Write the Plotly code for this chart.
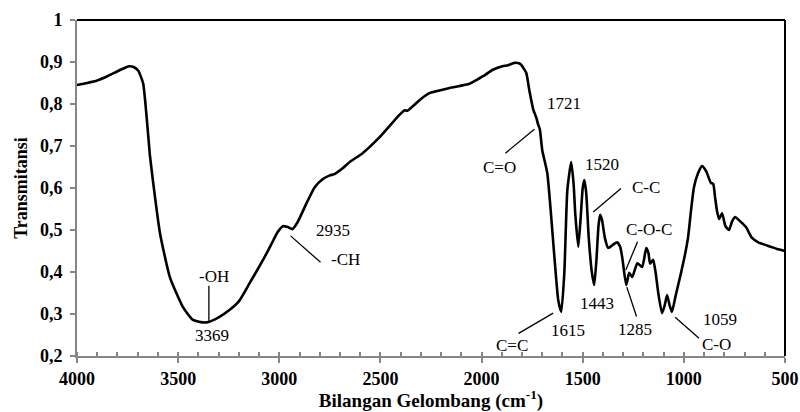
import plotly.graph_objects as go

# Wavenumber (cm-1) and transmittance
wavenumber = [4000, 3950, 3900, 3850, 3800, 3760, 3742, 3720, 3697, 3673, 3656, 3640, 3623,
              3590, 3541, 3477, 3427, 3378, 3350, 3300, 3245, 3200, 3146, 3100, 3062, 3030,
              3008, 2983, 2958, 2935, 2909, 2865, 2825, 2786, 2750, 2727, 2687, 2652, 2588,
              2504, 2406, 2380, 2366, 2300, 2258, 2159, 2060, 2026, 1980, 1947, 1897, 1870,
              1838, 1815, 1804, 1779, 1764, 1744, 1729, 1721, 1712, 1700, 1675, 1640, 1621,
              1606, 1591, 1576, 1557, 1545, 1537, 1522, 1510, 1500, 1492, 1483, 1470, 1455,
              1443, 1432, 1422, 1414, 1405, 1390, 1374, 1350, 1330, 1315, 1305, 1285, 1270,
              1255, 1230, 1206, 1186, 1175, 1167, 1152, 1140, 1125, 1108, 1095, 1083, 1070,
              1059, 1040, 1014, 995, 979, 965, 950, 930, 910, 890, 866, 855, 846, 836, 826,
              811, 795, 777, 762, 747, 720, 693, 663, 630, 594, 564, 540, 515, 500]
transmittance = [0.845, 0.850, 0.856, 0.866, 0.878, 0.887, 0.890, 0.888, 0.879, 0.849, 0.770,
                 0.680, 0.611, 0.493, 0.388, 0.317, 0.286, 0.280, 0.281, 0.292, 0.310, 0.330,
                 0.374, 0.412, 0.445, 0.475, 0.495, 0.509, 0.507, 0.502, 0.519, 0.564, 0.602,
                 0.621, 0.630, 0.633, 0.647, 0.662, 0.683, 0.721, 0.774, 0.785, 0.784, 0.812,
                 0.826, 0.838, 0.848, 0.857, 0.870, 0.881, 0.890, 0.892, 0.898, 0.897, 0.893,
                 0.874, 0.833, 0.786, 0.767, 0.752, 0.740, 0.690, 0.635, 0.436, 0.333, 0.305,
                 0.397, 0.595, 0.662, 0.610, 0.540, 0.460, 0.530, 0.600, 0.619, 0.590, 0.480,
                 0.400, 0.369, 0.430, 0.510, 0.536, 0.525, 0.480, 0.457, 0.465, 0.471, 0.460,
                 0.436, 0.369, 0.398, 0.388, 0.421, 0.412, 0.457, 0.445, 0.420, 0.429, 0.400,
                 0.345, 0.302, 0.320, 0.345, 0.320, 0.305, 0.345, 0.398, 0.440, 0.483, 0.545,
                 0.602, 0.635, 0.652, 0.640, 0.612, 0.610, 0.579, 0.545, 0.526, 0.540, 0.510,
                 0.500, 0.520, 0.531, 0.520, 0.507, 0.481, 0.470, 0.464, 0.459, 0.455, 0.452,
                 0.450]

x_tick_vals = [4000, 3500, 3000, 2500, 2000, 1500, 1000, 500]
x_tick_text = ["4000", "3500", "3000", "2500", "2000", "1500", "1000", "500"]
y_tick_vals = [0.2, 0.3, 0.4, 0.5, 0.6, 0.7, 0.8, 0.9, 1.0]
y_tick_text = ["0,2", "0,3", "0,4", "0,5", "0,6", "0,7", "0,8", "0,9", "1"]

label_texts = ["1721", "C=O", "1520", "C-C", "C-O-C", "1443", "1615", "C=C",
               "1285", "1059", "C-O", "-OH", "3369", "2935", "-CH"]

FONT = "Times New Roman, Liberation Serif, serif"
GRAY = "#868686"

fig = go.Figure()
fig.add_trace(go.Scatter(x=wavenumber, y=transmittance, mode="lines",
                         line=dict(color="black", width=2.6, shape="spline", smoothing=0.5),
                         showlegend=False, hoverinfo="skip"))

# label placement (data coordinates)
label_pos = [(1591, 0.802), (1912, 0.650), (1404, 0.657), (1186, 0.602), (1172, 0.502),
             (1428, 0.324), (1571, 0.260), (1848, 0.226), (1241, 0.264), (821, 0.286),
             (838, 0.228), (3324, 0.390), (3335, 0.250), (2735, 0.500), (2673, 0.429)]
for txt, (px, py) in zip(label_texts, label_pos):
    fig.add_annotation(x=px, y=py, text=txt, showarrow=False,
                       font=dict(family=FONT, size=17, color="black"))

leaders = [((1882, 0.683), (1739, 0.740)), ((1311, 0.599), (1448, 0.543)),
           ((1229, 0.472), (1287, 0.405)), ((1817, 0.254), (1646, 0.302)),
           ((1282, 0.364), (1234, 0.294)), ((1043, 0.292), (925, 0.242)),
           ((3348, 0.367), (3348, 0.279)), ((2944, 0.486), (2796, 0.423))]
for (x0, y0), (x1, y1) in leaders:
    fig.add_shape(type="line", x0=x0, y0=y0, x1=x1, y1=y1, xref="x", yref="y",
                  line=dict(color="black", width=1.3))

# top and right frame (black)
fig.add_shape(type="line", xref="x domain", yref="y domain", x0=0, x1=1, y0=1, y1=1,
              line=dict(color="black", width=2))
fig.add_shape(type="line", xref="x domain", yref="y domain", x0=1, x1=1, y0=0, y1=1,
              line=dict(color="black", width=2))

fig.update_layout(
    width=800, height=412,
    margin=dict(l=77, r=15, t=20, b=56, autoexpand=False),
    paper_bgcolor="white", plot_bgcolor="white",
    font=dict(family=FONT, color="black"),
    xaxis=dict(range=[4000, 500], tickvals=x_tick_vals, ticktext=x_tick_text,
               automargin=False,
               showgrid=False, zeroline=False, showline=True, linecolor=GRAY, linewidth=2,
               ticks="outside", ticklen=5, tickcolor=GRAY, tickwidth=1.5,
               minor=dict(ticks="inside", ticklen=4, dtick=100, tickcolor=GRAY, tickwidth=1.5),
               tickfont=dict(family=FONT, size=18, color="black", weight="bold"),
               title=dict(text="Bilangan Gelombang (cm<sup>-1</sup>)", standoff=3,
                          font=dict(family=FONT, size=19, color="black", weight="bold"))),
    yaxis=dict(range=[0.2, 1.0], tickvals=y_tick_vals, ticktext=y_tick_text,
               automargin=False,
               showgrid=False, zeroline=False, showline=True, linecolor=GRAY, linewidth=2,
               ticks="outside", ticklen=5, tickcolor=GRAY, tickwidth=1.5,
               ticklabelstandoff=4,
               tickfont=dict(family=FONT, size=18, color="black", weight="bold"),
               title=dict(text="Transmitansi", standoff=8,
                          font=dict(family=FONT, size=18, color="black", weight="bold"))),
)

fig.write_html("out.html", config={"displayModeBar": False},
               post_script="document.body.style.margin='0';")
